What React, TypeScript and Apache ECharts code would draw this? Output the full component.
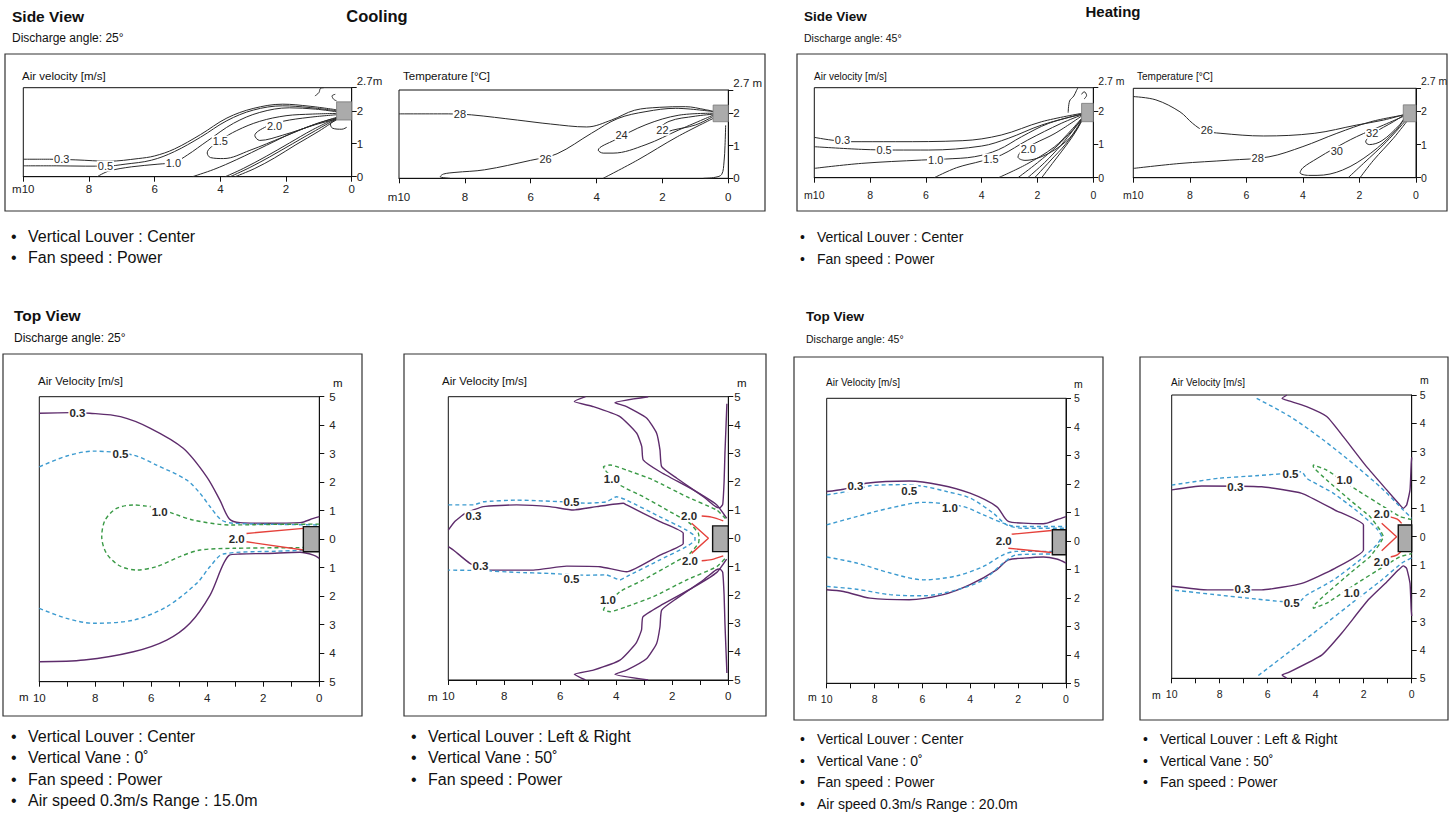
import React, { useEffect, useRef } from 'react';
import * as echarts from 'echarts';

type P = [number, number];
type L = [number, number, string];

// ---------- Side view, cooling, air velocity ----------
const scv03: P[] = [[10,0.53],[9.2,0.53],[8.4,0.51],[7.4,0.47],[6.5,0.55],[6.0,0.63],[5.4,0.84],[4.6,1.28],[3.8,1.78],[3.0,2.07],[2.1,2.2],[1.3,2.14],[0.46,2.03]];
const scv05: P[] = [[10,0.33],[9,0.33],[8.1,0.32],[7.5,0.32],[6.9,0.38],[6.1,0.5],[5.4,0.76],[4.6,1.2],[3.8,1.7],[3.0,2.02],[2.1,2.15],[1.3,2.1],[0.46,2.0]];
const scv10: P[] = [[7.75,0],[7.4,0.17],[6.7,0.3],[5.9,0.38],[5.4,0.44],[5.0,0.66],[4.4,1.08],[3.6,1.62],[2.8,1.95],[1.9,2.09],[1.1,2.05],[0.46,1.97]];
const scv15: P[] = [[0.46,1.92],[1.2,1.9],[2.0,1.85],[2.8,1.68],[3.5,1.4],[4.0,1.1],[4.4,0.72],[4.3,0.58],[3.9,0.55],[3.1,0.8],[2.1,1.2],[1.1,1.6],[0.46,1.78]];
const scv20: P[] = [[0.46,1.88],[1.3,1.8],[2.1,1.68],[2.6,1.52],[2.95,1.25],[2.8,1.1],[2.1,1.26],[1.1,1.58],[0.46,1.75]];
const scvLow1: P[] = [[4.85,0],[4.2,0.22],[3.5,0.52],[2.6,0.95],[1.8,1.33],[1.0,1.63],[0.46,1.8]];
const scvLow2: P[] = [[3.85,0],[3.3,0.25],[2.6,0.62],[1.9,1.02],[1.2,1.42],[0.46,1.78]];
const scvLow3: P[] = [[3.7,0],[3.1,0.28],[2.5,0.6],[1.8,1.0],[1.1,1.4],[0.46,1.76]];
const scvLow4: P[] = [[3.55,0],[2.95,0.25],[2.35,0.57],[1.7,0.97],[1.0,1.38],[0.46,1.74]];
const scvNear1: P[] = [[1.12,2.45],[1.0,2.55],[0.95,2.68],[0.85,2.7]];
const scvNear2: P[] = [[0.46,1.72],[0.65,1.6],[0.58,1.47],[0.3,1.44],[0.15,1.5]];
const scvNear3: P[] = [[0.5,2.5],[0.6,2.45],[0.55,2.35],[0.46,2.3]];
const scvLabels: L[] = [[8.83,0.53,'0.3'],[7.5,0.32,'0.5'],[5.43,0.42,'1.0'],[4.0,1.08,'1.5'],[2.35,1.55,'2.0']];
const scvUnit = [0, 2.27, 0.46, 1.72];

// ---------- Side view, cooling, temperature ----------
const sct28: P[] = [[10,1.97],[8.5,1.97],[7.8,1.94],[6.4,1.78],[5.4,1.66],[4.3,1.57],[3.55,1.78],[2.85,2.08],[2.1,2.17],[1.3,2.19],[0.7,2.1],[0.46,2.05]];
const sct26: P[] = [[8.45,0],[8.75,0.05],[8.65,0.13],[8.3,0.18],[7.4,0.26],[6.0,0.55],[5.2,0.75],[4.15,1.38],[3.35,1.83],[2.5,2.04],[1.6,2.14],[0.46,2.04]];
const sct24: P[] = [[0.46,1.99],[1.5,1.93],[2.5,1.64],[3.45,1.17],[3.95,0.86],[3.8,0.77],[3.5,0.77],[2.5,1.03],[1.5,1.48],[0.46,1.93]];
const sct22: P[] = [[0.46,1.96],[1.0,1.9],[1.8,1.74],[2.15,1.42],[2.05,1.36],[1.7,1.47],[1.0,1.63],[0.46,1.89]];
const sctLow: P[] = [[3.8,0],[2.75,0.56],[1.55,1.27],[0.46,1.83]];
const sctWall: P[] = [[0.75,0],[0.4,0.03],[0.2,0.12],[0.13,0.5],[0.1,1.0],[0.08,1.62]];
const sctLabels: L[] = [[8.15,1.96,'28'],[5.55,0.6,'26'],[3.24,1.33,'24'],[2.0,1.47,'22']];
const sctUnit = [0, 2.24, 0.46, 1.73];

// ---------- Side view, heating, air velocity ----------
const shv03: P[] = [[10,1.21],[9.4,1.13],[8.7,1.08],[7.1,1.08],[4.7,1.11],[3.3,1.28],[1.85,1.68],[0.42,1.93]];
const shv05: P[] = [[10,0.93],[8.3,0.85],[7.1,0.83],[5.9,0.83],[4.0,0.95],[3.05,1.18],[1.85,1.58],[0.42,1.91]];
const shv10: P[] = [[10,0.28],[8.3,0.43],[6.15,0.53],[5.3,0.56],[4.25,0.63],[3.4,0.84],[2.57,1.23],[1.6,1.63],[0.42,1.9]];
const shv15: P[] = [[5.7,0],[4.9,0.3],[4.0,0.5],[3.3,0.68],[2.35,1.13],[1.15,1.63],[0.42,1.88]];
const shv20: P[] = [[0.42,1.85],[1.37,1.33],[2.1,1.03],[2.55,0.82],[2.7,0.62],[2.45,0.52],[1.6,0.73],[0.8,1.23],[0.38,1.75]];
const shvLow1: P[] = [[3.4,0],[2.4,0.4],[1.4,0.92],[0.8,1.42],[0.42,1.78]];
const shvLow2: P[] = [[2.7,0],[2.0,0.45],[1.3,0.95],[0.75,1.42],[0.42,1.76]];
const shvLow3: P[] = [[2.35,0],[1.75,0.45],[1.15,0.98],[0.7,1.45],[0.42,1.75]];
const shvLow4: P[] = [[2.1,0],[1.55,0.5],[1.0,1.0],[0.62,1.45],[0.42,1.73]];
const shvLow5: P[] = [[1.85,0],[1.4,0.5],[0.9,1.05],[0.58,1.45],[0.42,1.72]];
const shvNear1: P[] = [[0.9,1.95],[0.85,2.3],[0.7,2.45],[0.6,2.62],[0.55,2.7]];
const shvNear2: P[] = [[0.42,2.5],[0.33,2.58],[0.24,2.47],[0.33,2.36]];
const shvLabels: L[] = [[8.99,1.12,'0.3'],[7.5,0.83,'0.5'],[5.65,0.54,'1.0'],[3.67,0.56,'1.5'],[2.33,0.85,'2.0']];
const shvUnit = [0, 2.23, 0.42, 1.68];

// ---------- Side view, heating, temperature ----------
const sht26: P[] = [[10,2.45],[9.2,2.35],[8.35,1.99],[7.9,1.64],[7.5,1.42],[6.9,1.34],[5.4,1.26],[3.6,1.34],[2.1,1.59],[1.15,1.74],[0.45,1.9]];
const sht28: P[] = [[10,0.28],[8.35,0.43],[6.6,0.53],[5.2,0.63],[4.0,0.94],[2.8,1.34],[1.6,1.69],[0.45,1.89]];
const sht30: P[] = [[0.45,1.85],[1.15,1.59],[2.1,1.24],[2.9,0.88],[3.5,0.58],[4.0,0.3],[4.1,0.15],[3.8,0.07],[3.5,0.07],[2.6,0.23],[1.6,0.74],[0.7,1.44],[0.4,1.8]];
const sht32: P[] = [[0.45,1.88],[0.8,1.69],[1.5,1.34],[1.78,1.08],[1.65,1.0],[1.2,1.12],[0.6,1.58],[0.4,1.82]];
const shtLow1: P[] = [[2.4,0],[1.86,0.43],[1.04,1.09],[0.33,1.76]];
const shtLow2: P[] = [[1.98,0],[1.5,0.53],[0.8,1.19],[0.27,1.76]];
const shtLabels: L[] = [[7.4,1.44,'26'],[5.6,0.58,'28'],[2.8,0.8,'30'],[1.55,1.34,'32']];
const shtUnit = [0, 2.2, 0.45, 1.69];

// ---------- Top view, cooling, louver center ----------
const tcc03Up: P[] = [[10,4.42],[8.9,4.44],[8.2,4.42],[7.1,4.3],[6.05,3.9],[4.86,3.19],[4.02,2.19],[3.55,1.37],[3.21,0.71],[2.83,0.58],[1.88,0.56],[0.69,0.58],[0.21,0.73],[0,0.79]];
const tcc03Dn: P[] = [[10,-4.3],[8.4,-4.24],[6.64,-3.95],[5.45,-3.54],[4.62,-2.95],[3.9,-1.96],[3.21,-0.56],[2.83,-0.52],[1.88,-0.5],[0.69,-0.46],[0.21,-0.56],[0,-0.67]];
const tcc05Up: P[] = [[10,2.54],[9.02,2.92],[8.07,3.09],[6.64,2.95],[5.81,2.6],[4.74,2.08],[4.26,1.61],[3.9,1.14],[3.49,0.67],[3.07,0.56],[1.5,0.52],[0,0.5]];
const tcc05Dn: P[] = [[10,-2.43],[9.02,-2.78],[8.07,-2.95],[6.64,-2.84],[5.45,-2.37],[4.38,-1.55],[3.9,-0.96],[3.43,-0.52],[1.5,-0.42],[0,-0.38]];
const tcc10: P[] = [[0,0.53],[1.5,0.52],[3.19,0.5],[4.5,0.67],[5.21,0.9],[5.8,1.1],[6.17,1.16],[6.64,1.2],[7.24,1.08],[7.65,0.67],[7.77,0.09],[7.6,-0.5],[7.12,-0.94],[6.52,-1.08],[5.81,-0.96],[4.98,-0.61],[4.26,-0.38],[3.07,-0.32],[0,-0.29]];
const tcc20Up: P[] = [[0.57,0.38],[2.6,0.2]];
const tcc20Dn: P[] = [[2.6,-0.09],[0.57,-0.38]];
const tccLabels: L[] = [[8.64,4.42,'0.3'],[7.1,3.0,'0.5'],[5.7,0.96,'1.0'],[2.95,0.02,'2.0']];
const tccUnit = [0, 0.44, 0.57, -0.44];

// ---------- Top view, cooling, louver left & right ----------
const tclOutA: P[] = [[5.1,5.0],[5.5,4.83],[4.82,4.65],[3.87,4.3],[3.27,3.71],[3.09,3.24],[3.04,2.77],[2.44,2.35],[1.25,1.71],[0.41,1.18],[0.06,0.71]];
const tclOutB: P[] = [[2.86,5.0],[4.05,4.79],[3.63,4.65],[2.91,4.24],[2.56,3.71],[2.44,3.12],[2.38,2.53],[1.84,2.12],[0.89,1.47],[0.45,1.12],[0.3,1.08],[0.2,1.2],[0.15,2.0],[0.12,3.0],[0.08,4.0],[0.05,4.75]];
const tclOutC: P[] = [[5.1,-5.0],[5.5,-4.8],[4.82,-4.65],[3.87,-4.3],[3.3,-3.71],[3.1,-3.24],[3.05,-2.77],[2.44,-2.38],[1.25,-1.73],[0.41,-1.2],[0.06,-0.73]];
const tclOutD: P[] = [[2.86,-5.0],[4.05,-4.8],[3.63,-4.65],[2.91,-4.24],[2.56,-3.71],[2.44,-3.12],[2.38,-2.53],[1.84,-2.12],[0.89,-1.47],[0.45,-1.12],[0.3,-1.08],[0.2,-1.2],[0.15,-2.0],[0.12,-3.0],[0.08,-4.0],[0.05,-4.75]];
const tcl03: P[] = [[10,0.29],[9.76,0.6],[9.4,0.88],[8.75,1.12],[7.56,1.18],[6.37,1.12],[5.54,1.0],[4.7,1.12],[3.75,1.24],[3.63,1.18],[2.44,0.59],[1.61,0.18],[1.61,-0.18],[2.44,-0.59],[3.63,-1.18],[4.58,-1.0],[5.77,-0.98],[6.96,-1.12],[8.51,-1.12],[9.23,-0.88],[9.82,-0.41],[10,-0.29]];
const tcl05: P[] = [[10,1.18],[9.1,1.18],[8.75,1.29],[7.56,1.35],[5.89,1.29],[5.06,1.24],[4.35,1.29],[3.99,1.47],[3.63,1.35],[2.44,0.76],[1.49,0.29],[1.19,0.06],[1.19,-0.06],[1.49,-0.29],[2.44,-0.76],[3.63,-1.35],[3.87,-1.47],[4.35,-1.29],[5.06,-1.3],[6.37,-1.24],[7.56,-1.2],[8.75,-1.14],[10,-1.12]];
const tcl10: P[] = [[0.1,0.7],[0.41,1.0],[1.49,1.47],[2.68,2.06],[3.63,2.41],[4.22,2.59],[4.46,2.53],[4.4,2.41],[3.87,1.88],[3.04,1.47],[2.08,0.94],[1.37,0.53],[1.07,0.18],[1.04,0],[1.07,-0.18],[1.37,-0.53],[2.08,-0.94],[3.04,-1.47],[3.87,-1.88],[4.4,-2.41],[4.46,-2.53],[4.22,-2.59],[3.63,-2.41],[2.68,-2.06],[1.49,-1.47],[0.41,-1.0],[0.1,-0.7]];
const tcl20V: P[] = [[1.31,0.53],[0.71,0],[1.31,-0.53]];
const tcl20Up: P[] = [[0.95,0.79],[0.6,0.75],[0.18,0.62]];
const tcl20Dn: P[] = [[0.95,-0.79],[0.6,-0.75],[0.18,-0.62]];
const tclLabels: L[] = [[9.1,0.78,'0.3'],[8.85,-0.98,'0.3'],[5.6,1.3,'0.5'],[5.6,-1.45,'0.5'],[4.16,2.1,'1.0'],[4.3,-2.18,'1.0'],[1.4,0.8,'2.0'],[1.37,-0.8,'2.0']];
const tclUnit = [0, 0.44, 0.56, -0.47];

// ---------- Top view, heating, louver center ----------
const thc03Up: P[] = [[10,1.73],[9.3,1.81],[8.36,2.02],[6.55,2.1],[5.26,1.96],[4.01,1.67],[2.9,1.2],[2.41,0.68],[1.78,0.62],[0.95,0.6],[0.39,0.74],[0,0.85]];
const thc03Dn: P[] = [[10,-1.72],[9.3,-1.78],[8.19,-2.01],[6.55,-2.07],[5.13,-1.89],[4.01,-1.54],[2.9,-1.02],[2.41,-0.67],[1.78,-0.61],[0.95,-0.57],[0.39,-0.64],[0,-0.78]];
const thc05Up: P[] = [[10,1.61],[8.75,1.79],[8.19,1.93],[6.8,1.97],[5.96,1.91],[4.99,1.73],[4.01,1.5],[3.04,0.97],[2.48,0.56],[1.78,0.44],[0,0.44]];
const thc05Dn: P[] = [[10,-1.6],[8.75,-1.7],[7.35,-1.89],[5.96,-1.93],[4.57,-1.72],[3.45,-1.37],[2.62,-0.78],[2.06,-0.49],[0,-0.46]];
const thc10Up: P[] = [[10,0.56],[8.75,0.85],[7.35,1.15],[5.96,1.35],[4.29,1.2],[3.45,0.91],[2.62,0.62],[2.06,0.5],[0,0.5]];
const thc10Dn: P[] = [[10,-0.57],[8.75,-0.78],[7.35,-1.13],[5.96,-1.37],[4.57,-1.23],[3.45,-0.9],[2.62,-0.49],[2.06,-0.37],[0,-0.37]];
const thc20Up: P[] = [[2.27,0.23],[0.6,0.36]];
const thc20Dn: P[] = [[2.41,-0.26],[0.6,-0.41]];
const thcLabels: L[] = [[8.8,1.92,'0.3'],[6.55,1.75,'0.5'],[4.85,1.15,'1.0'],[2.6,0.0,'2.0']];
const thcUnit = [0, 0.39, 0.57, -0.49];

// ---------- Top view, heating, louver left & right ----------
const thlOutUp: P[] = [[5.2,5.0],[5.4,4.88],[5.15,4.8],[4.38,4.59],[3.54,4.24],[2.85,3.53],[1.88,2.47],[1.04,1.65],[0.49,1.12],[0.35,1.0],[0.21,1.12],[0.07,1.65],[0.02,2.59],[0,2.8]];
const thlOutDn: P[] = [[5.2,-5.0],[5.4,-4.88],[5.15,-4.8],[3.75,-4.18],[2.92,-3.41],[1.81,-2.23],[1.04,-1.6],[0.56,-1.18],[0.35,-1.03],[0.21,-1.12],[0.07,-1.65],[0.02,-2.59],[0,-2.8]];
const thl05OutUp: P[] = [[6.46,4.88],[5.07,4.24],[3.68,3.41],[2.29,2.47],[1.18,1.65],[0.35,0.94],[0,0.65]];
const thl05OutDn: P[] = [[6.39,-4.9],[5.0,-4.0],[3.75,-3.18],[2.5,-2.35],[1.25,-1.53],[0.42,-0.94],[0,-0.75]];
const thl05In: P[] = [[10,1.82],[8.06,2.06],[6.5,2.15],[5.42,2.22],[4.58,2.29],[4.38,2.06],[3.26,1.53],[2.15,0.82],[1.46,0.29],[1.25,0],[1.46,-0.29],[2.15,-0.82],[3.26,-1.53],[4.38,-2.06],[4.7,-2.3],[5.42,-2.29],[6.5,-2.2],[8.06,-2.06],[10,-1.88]];
const thl10: P[] = [[0,0.6],[0.49,0.71],[1.18,1.06],[2.29,1.65],[3.54,2.35],[4.1,2.53],[4.1,2.47],[3.54,2.0],[2.57,1.29],[1.74,0.71],[1.32,0.24],[1.18,0],[1.32,-0.24],[1.74,-0.71],[2.57,-1.29],[3.54,-2.0],[4.1,-2.47],[4.1,-2.53],[3.54,-2.35],[2.29,-1.65],[1.18,-1.06],[0.49,-0.71],[0,-0.6]];
const thl03In: P[] = [[10,1.65],[8.75,1.79],[6.25,1.76],[4.58,1.53],[3.2,0.94],[2.01,0.41],[2.01,-0.47],[3.2,-1.12],[4.58,-1.65],[6.25,-1.88],[8.5,-1.88],[10,-1.75]];
const thl20V: P[] = [[1.25,0.47],[0.63,0],[1.25,-0.5]];
const thl20Up: P[] = [[0.9,0.7],[0.6,0.62],[0.42,0.47]];
const thl20Dn: P[] = [[0.9,-0.72],[0.6,-0.64],[0.42,-0.5]];
const thlLabels: L[] = [[7.35,1.74,'0.3'],[7.05,-1.85,'0.3'],[5.05,2.2,'0.5'],[5.0,-2.33,'0.5'],[2.8,2.0,'1.0'],[2.5,-2.0,'1.0'],[1.25,0.8,'2.0'],[1.25,-0.88,'2.0']];
const thlUnit = [0, 0.41, 0.56, -0.53];

// ---------- Texts ----------
const coolSideBullets = ['Vertical Louver : Center', 'Fan speed : Power'];
const heatSideBullets = ['Vertical Louver : Center', 'Fan speed : Power'];
const centerBulletsCool = ['Vertical Louver : Center', 'Vertical Vane : 0˚', 'Fan speed : Power', 'Air speed 0.3m/s Range : 15.0m'];
const lrBullets = ['Vertical Louver : Left & Right', 'Vertical Vane : 50˚', 'Fan speed : Power'];
const centerBulletsHeat = ['Vertical Louver : Center', 'Vertical Vane : 0˚', 'Fan speed : Power', 'Air speed 0.3m/s Range : 20.0m'];

const FONT = 'Arial, "Liberation Sans", Helvetica, sans-serif';
const PURPLE = '#5e2c6c';
const BLUE = '#3d9bd0';
const GREEN = '#3a9a46';
const RED = '#e5413b';
const DARK = '#2a2a2a';

interface LineDef { d: P[]; c: string; dash?: boolean; w?: number; s?: number }
interface PlotDef {
  grid: { left: number; top: number; width: number; height: number };
  top: boolean;
  yTop?: string;
  xMargin: number;
  yMargin: number;
  font: number;
  lines: LineDef[];
  labels: L[];
  unit: number[];
}

const side = (d: P[]): LineDef => ({ d, c: DARK, w: 1, s: 0.35 });

const plots: PlotDef[] = [
  {
    grid: { left: 23.3, top: 87.7, width: 328.4, height: 89 }, top: false, yTop: '2.7m', xMargin: 6, yMargin: 5, font: 11.5,
    lines: [scv03, scv05, scv10, scv15, scv20, scvLow1, scvLow2, scvLow3, scvLow4, scvNear1, scvNear2, scvNear3].map(side),
    labels: scvLabels, unit: scvUnit,
  },
  {
    grid: { left: 399, top: 90, width: 329.3, height: 88.3 }, top: false, yTop: '2.7 m', xMargin: 13, yMargin: 5, font: 11.5,
    lines: [sct28, sct26, sct24, sct22, sctLow, sctWall].map(side),
    labels: sctLabels, unit: sctUnit,
  },
  {
    grid: { left: 814.3, top: 87.7, width: 279, height: 90 }, top: false, yTop: '2.7 m', xMargin: 12, yMargin: 5, font: 10.5,
    lines: [shv03, shv05, shv10, shv15, shv20, shvLow1, shvLow2, shvLow3, shvLow4, shvLow5, shvNear1, shvNear2].map(side),
    labels: shvLabels, unit: shvUnit,
  },
  {
    grid: { left: 1133.3, top: 88.3, width: 282.7, height: 89.4 }, top: false, yTop: '2.7 m', xMargin: 12, yMargin: 5, font: 10.5,
    lines: [sht26, sht28, sht30, sht32, shtLow1, shtLow2].map(side),
    labels: shtLabels, unit: shtUnit,
  },
  {
    grid: { left: 39.3, top: 396.7, width: 280, height: 285 }, top: true, xMargin: 10, yMargin: 10, font: 11.5,
    lines: [
      { d: tcc03Up, c: PURPLE }, { d: tcc03Dn, c: PURPLE },
      { d: tcc05Up, c: BLUE, dash: true }, { d: tcc05Dn, c: BLUE, dash: true },
      { d: tcc10, c: GREEN, dash: true },
      { d: tcc20Up, c: RED, s: 0 }, { d: tcc20Dn, c: RED, s: 0 },
    ],
    labels: tccLabels, unit: tccUnit,
  },
  {
    grid: { left: 448.3, top: 396.7, width: 280, height: 283.3 }, top: true, xMargin: 10, yMargin: 6, font: 11.5,
    lines: [
      { d: tclOutA, c: PURPLE, s: 0.15 }, { d: tclOutB, c: PURPLE, s: 0.15 },
      { d: tclOutC, c: PURPLE, s: 0.15 }, { d: tclOutD, c: PURPLE, s: 0.15 },
      { d: tcl03, c: PURPLE, s: 0.15 },
      { d: tcl05, c: BLUE, dash: true, s: 0.15 },
      { d: tcl10, c: GREEN, dash: true, s: 0.15 },
      { d: tcl20V, c: RED, s: 0 }, { d: tcl20Up, c: RED }, { d: tcl20Dn, c: RED },
    ],
    labels: tclLabels, unit: tclUnit,
  },
  {
    grid: { left: 826.7, top: 398.3, width: 239.3, height: 285 }, top: true, xMargin: 10, yMargin: 8, font: 10.5,
    lines: [
      { d: thc03Up, c: PURPLE }, { d: thc03Dn, c: PURPLE },
      { d: thc05Up, c: BLUE, dash: true }, { d: thc05Dn, c: BLUE, dash: true },
      { d: thc10Up, c: BLUE, dash: true }, { d: thc10Dn, c: BLUE, dash: true },
      { d: thc20Up, c: RED, s: 0 }, { d: thc20Dn, c: RED, s: 0 },
    ],
    labels: thcLabels, unit: thcUnit,
  },
  {
    grid: { left: 1171.7, top: 395, width: 240, height: 283.3 }, top: true, xMargin: 10, yMargin: 8, font: 10.5,
    lines: [
      { d: thlOutUp, c: PURPLE, s: 0.15 }, { d: thlOutDn, c: PURPLE, s: 0.15 },
      { d: thl05OutUp, c: BLUE, dash: true }, { d: thl05OutDn, c: BLUE, dash: true },
      { d: thl05In, c: BLUE, dash: true, s: 0.15 },
      { d: thl10, c: GREEN, dash: true, s: 0.1 },
      { d: thl03In, c: PURPLE, s: 0.15 },
      { d: thl20V, c: RED, s: 0 }, { d: thl20Up, c: RED }, { d: thl20Dn, c: RED },
    ],
    labels: thlLabels, unit: thlUnit,
  },
];

function txt(x: number, y: number, text: string, size: number, bold = false, align = 'left') {
  return {
    type: 'text', x, y, silent: true,
    style: { text, fontSize: size, fontWeight: bold ? 'bold' : 'normal', fontFamily: FONT, fill: '#111', align, verticalAlign: 'middle' },
  };
}
function box(x0: number, y0: number, x1: number, y1: number) {
  return { type: 'rect', silent: true, shape: { x: x0, y: y0, width: x1 - x0, height: y1 - y0 }, style: { fill: 'none', stroke: '#333', lineWidth: 1.2 } };
}
function bullets(x: number, y: number, items: string[], size: number, step: number) {
  const out: any[] = [];
  items.forEach((t, i) => {
    out.push(txt(x - 17, y + i * step, '•', size));
    out.push(txt(x, y + i * step, t, size));
  });
  return out;
}

function buildOption() {
  const grid: any[] = [];
  const xAxis: any[] = [];
  const yAxis: any[] = [];
  const series: any[] = [];
  plots.forEach((p, i) => {
    grid.push({ ...p.grid, show: true, borderColor: '#111', borderWidth: 1, backgroundColor: 'transparent' });
    xAxis.push({
      gridIndex: i, type: 'value', min: 0, max: 10, inverse: true, interval: p.top ? 1 : 2,
      axisLine: { onZero: false, lineStyle: { color: '#111', width: 1 } },
      axisTick: { length: 5, lineStyle: { color: '#111' } },
      axisLabel: {
        margin: p.xMargin, fontSize: p.font, color: '#222', fontFamily: FONT, showMinLabel: true, showMaxLabel: true,
        formatter: (v: number) => (p.top ? (v % 2 === 0 ? String(v) : '') : v === 10 ? 'm10' : String(v)),
      },
      splitLine: { show: false },
    });
    yAxis.push({
      gridIndex: i, type: 'value', position: 'right', min: p.top ? -5 : 0, max: p.top ? 5 : 2.7, interval: 1,
      axisLine: { onZero: false, lineStyle: { color: '#111', width: 1 } },
      axisTick: { length: 5, lineStyle: { color: '#111' } },
      axisLabel: {
        margin: p.yMargin, fontSize: p.font, color: '#222', fontFamily: FONT, showMaxLabel: true,
        formatter: (v: number) => (p.top ? String(Math.abs(v)) : v > 2.5 ? '{t|' + p.yTop + '}' : String(v)),
        rich: { t: { fontSize: p.font, fontFamily: FONT, color: '#222', padding: [0, 0, 14, 0] } },
      },
      splitLine: { show: false },
    });
    p.lines.forEach((l) => {
      series.push({
        type: 'line', xAxisIndex: i, yAxisIndex: i, data: l.d, symbol: 'none', showSymbol: false,
        smooth: l.s === undefined ? 0.3 : l.s, silent: true, z: 2,
        lineStyle: { color: l.c, width: l.w || 1.4, type: l.dash ? [4, 3] : 'solid' },
      });
    });
    series.push({
      type: 'custom', xAxisIndex: i, yAxisIndex: i, data: [p.unit], silent: true, z: 4,
      renderItem: (_params: any, api: any) => {
        const a = api.coord([api.value(0), api.value(1)]);
        const b = api.coord([api.value(2), api.value(3)]);
        return {
          type: 'rect',
          shape: { x: Math.min(a[0], b[0]), y: Math.min(a[1], b[1]), width: Math.abs(b[0] - a[0]), height: Math.abs(b[1] - a[1]) },
          style: { fill: '#ababab', stroke: p.top ? '#111' : '#777', lineWidth: p.top ? 1.4 : 0.8 },
        };
      },
    });
    series.push({
      type: 'scatter', xAxisIndex: i, yAxisIndex: i, silent: true, z: 6, symbolSize: 1,
      itemStyle: { color: '#ffffff', opacity: 0 },
      data: p.labels.map((l) => ({ value: [l[0], l[1]], name: l[2] })),
      label: {
        show: true, position: 'inside', formatter: '{b}', fontSize: p.top ? 11.5 : 11, fontFamily: FONT,
        color: '#2a2a2a', fontWeight: p.top ? 'bold' : 'normal', backgroundColor: '#fff', padding: [0, 1],
        textBorderWidth: 0, textBorderColor: 'transparent', opacity: 1,
      },
    });
  });

  const graphic: any[] = [
    // Cooling
    txt(12, 16, 'Side View', 15.5, true),
    txt(12, 38, 'Discharge angle: 25°', 12),
    txt(377, 16, 'Cooling', 16.5, true, 'center'),
    box(5, 54, 765, 211),
    txt(22, 76, 'Air velocity [m/s]', 11.5),
    txt(403, 76, 'Temperature [°C]', 11.5),
    ...bullets(28, 236, coolSideBullets, 16, 21.5),
    txt(14, 315, 'Top View', 15.5, true),
    txt(14, 338, 'Discharge angle: 25°', 12),
    box(3, 354, 362, 716),
    box(404, 354, 766, 716),
    txt(38, 381, 'Air Velocity [m/s]', 11.5),
    txt(442, 381, 'Air Velocity [m/s]', 11.5),
    txt(333, 383, 'm', 11.5),
    txt(737, 383, 'm', 11.5),
    txt(19, 697, 'm', 11.5),
    txt(428, 697, 'm', 11.5),
    ...bullets(28, 736, centerBulletsCool, 16, 21.5),
    ...bullets(428, 736, lrBullets, 16, 21.5),
    // Heating
    txt(1113, 11, 'Heating', 15, true, 'center'),
    txt(804, 16, 'Side View', 13.5, true),
    txt(804, 38, 'Discharge angle: 45°', 10.5),
    box(797, 54, 1447, 211),
    txt(814, 76, 'Air velocity [m/s]', 10),
    txt(1137, 76, 'Temperature [°C]', 10),
    ...bullets(817, 237, heatSideBullets, 14, 21.5),
    txt(806, 316, 'Top View', 13.5, true),
    txt(806, 339, 'Discharge angle: 45°', 10.5),
    box(794, 357, 1103, 720),
    box(1140, 357, 1448, 720),
    txt(826, 382, 'Air Velocity [m/s]', 10),
    txt(1171, 382, 'Air Velocity [m/s]', 10),
    txt(1074, 384, 'm', 10.5),
    txt(1420, 380, 'm', 10.5),
    txt(808, 697, 'm', 10.5),
    txt(1152, 695, 'm', 10.5),
    ...bullets(817, 739, centerBulletsHeat, 14, 21.7),
    ...bullets(1160, 739, lrBullets, 14, 21.7),
  ];

  return { animation: false, backgroundColor: '#fff', grid, xAxis, yAxis, series, graphic };
}

export default function App() {
  const ref = useRef<HTMLDivElement>(null);
  useEffect(() => {
    document.body.style.margin = '0';
    const chart = echarts.init(ref.current!, null, { renderer: 'svg' });
    chart.setOption(buildOption() as any);
    return () => chart.dispose();
  }, []);
  return <div ref={ref} style={{ position: 'absolute', left: 0, top: 0, width: 1456, height: 814, background: '#fff' }} />;
}
